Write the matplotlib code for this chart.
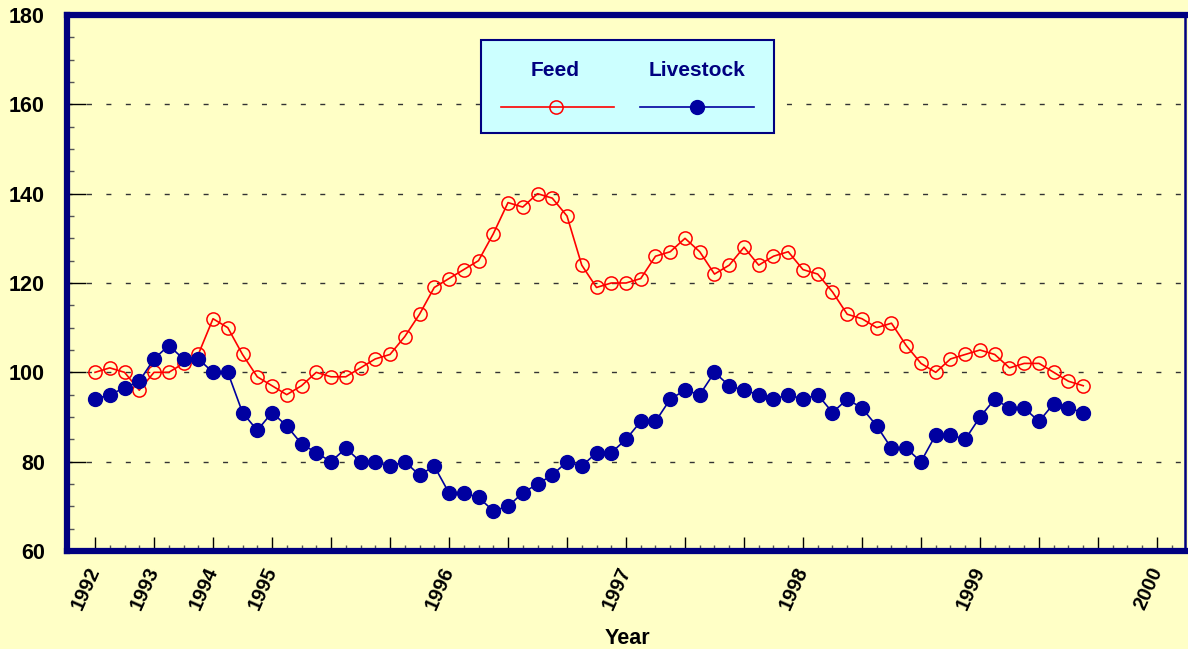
import matplotlib
matplotlib.use("Agg")
import matplotlib.pyplot as plt
import numpy as np
from matplotlib.lines import Line2D
from matplotlib.patches import Rectangle

# index values (quarterly 1992-94, then monthly)
feed = [100, 101, 100, 96, 100, 100, 102, 104, 112, 110, 104, 99,
        97, 95, 97, 100, 99, 99, 101, 103, 104, 108, 113, 119,
        121, 123, 125, 131, 138, 137, 140, 139, 135, 124, 119, 120,
        120, 121, 126, 127, 130, 127, 122, 124, 128, 124, 126, 127,
        123, 122, 118, 113, 112, 110, 111, 106, 102, 100, 103, 104,
        105, 104, 101, 102, 102, 100, 98, 97]
livestock = [94, 95, 96.5, 98, 103, 106, 103, 103, 100, 100, 91, 87,
             91, 88, 84, 82, 80, 83, 80, 80, 79, 80, 77, 79,
             73, 73, 72, 69, 70, 73, 75, 77, 80, 79, 82, 82,
             85, 89, 89, 94, 96, 95, 100, 97, 96, 95, 94, 95,
             94, 95, 91, 94, 92, 88, 83, 83, 80, 86, 86, 85,
             90, 94, 92, 92, 89, 93, 92, 91]
year_labels = ["1992", "1993", "1994", "1995", "1996", "1997", "1998", "1999", "2000"]
year_pos = [0, 4, 8, 12, 24, 36, 48, 60, 72]

plt.rcParams['font.family'] = ['Liberation Sans', 'DejaVu Sans']
plt.rcParams['font.weight'] = 'bold'

bg = '#FFFFC6'
navy = '#000080'
red = '#FF0000'
blue = '#0000A0'

fig = plt.figure(figsize=(11.88, 6.49), dpi=100, facecolor=bg)
ax = fig.add_axes([67/1188, 98/649, 1118/1188, 536/649])
ax.set_facecolor(bg)

x = np.arange(len(feed))
ax.plot(x, feed, color=red, lw=1.2, marker='o', ms=9.5, mfc='none',
        mec=red, mew=1.1, zorder=3)
ax.plot(x, livestock, color=blue, lw=1.2, marker='o', ms=10, mfc=blue,
        mec=blue, zorder=4)

ax.set_xlim(-1.9, 73.9)
ax.set_ylim(60, 180)

ax.set_yticks(np.arange(60, 181, 20))
ax.set_yticks(np.arange(60, 181, 5), minor=True)
major_x = list(range(0, 73, 4))
ax.set_xticks(major_x)
ax.set_xticklabels([year_labels[year_pos.index(p)] if p in year_pos else ''
                    for p in major_x])
ax.set_xticks(np.arange(0, 74, 1), minor=True)

ax.tick_params(axis='y', which='major', direction='in', length=14, width=1,
               color='black', pad=16, labelsize=15.5)
ax.tick_params(axis='y', which='minor', direction='in', length=5, width=1,
               color='#555555')
ax.tick_params(axis='x', which='major', direction='in', length=10, width=1,
               color='black', pad=12, labelsize=14.5)
ax.tick_params(axis='x', which='minor', direction='in', length=4.5, width=1,
               color='#555555')
for lab in ax.get_xticklabels():
    lab.set_rotation(66)
    lab.set_ha('right')
    lab.set_va('center')
    lab.set_rotation_mode('anchor')

# dashed horizontal grid
for gy in range(80, 180, 20):
    ax.axhline(gy, color='#333333', lw=1, ls=(0, (3.6, 10.4)), zorder=1)

for s in ['left', 'top', 'bottom']:
    ax.spines[s].set_linewidth(4.5)
    ax.spines[s].set_color(navy)
ax.spines['right'].set_linewidth(1.8)
ax.spines['right'].set_color(navy)

# legend box
ax.add_patch(Rectangle((0.370, 0.780), 0.262, 0.173, transform=ax.transAxes,
                       fc='#CCFFFF', ec=navy, lw=1.5, zorder=5))
ax.text(0.437, 0.897, 'Feed', transform=ax.transAxes, ha='center', va='center',
        color=navy, fontsize=15, fontweight='bold', zorder=6)
ax.text(0.5635, 0.897, 'Livestock', transform=ax.transAxes, ha='center',
        va='center', color=navy, fontsize=15, fontweight='bold', zorder=6)
ax.add_line(Line2D([0.388, 0.489], [0.828, 0.828], transform=ax.transAxes,
                   color=red, lw=1.2, zorder=6))
ax.add_line(Line2D([0.437], [0.828], transform=ax.transAxes, marker='o',
                   ms=9.5, mfc='none', mec=red, mew=1.1, zorder=7))
ax.add_line(Line2D([0.5125, 0.6145], [0.828, 0.828], transform=ax.transAxes,
                   color=blue, lw=1.2, zorder=6))
ax.add_line(Line2D([0.5635], [0.828], transform=ax.transAxes, marker='o',
                   ms=10, mfc=blue, mec=blue, zorder=7))

fig.text(627/1188, 1 - 638/649, 'Year', ha='center', va='center',
         fontsize=15.5, fontweight='bold')

fig.savefig('out.png', dpi=100, facecolor=bg)
